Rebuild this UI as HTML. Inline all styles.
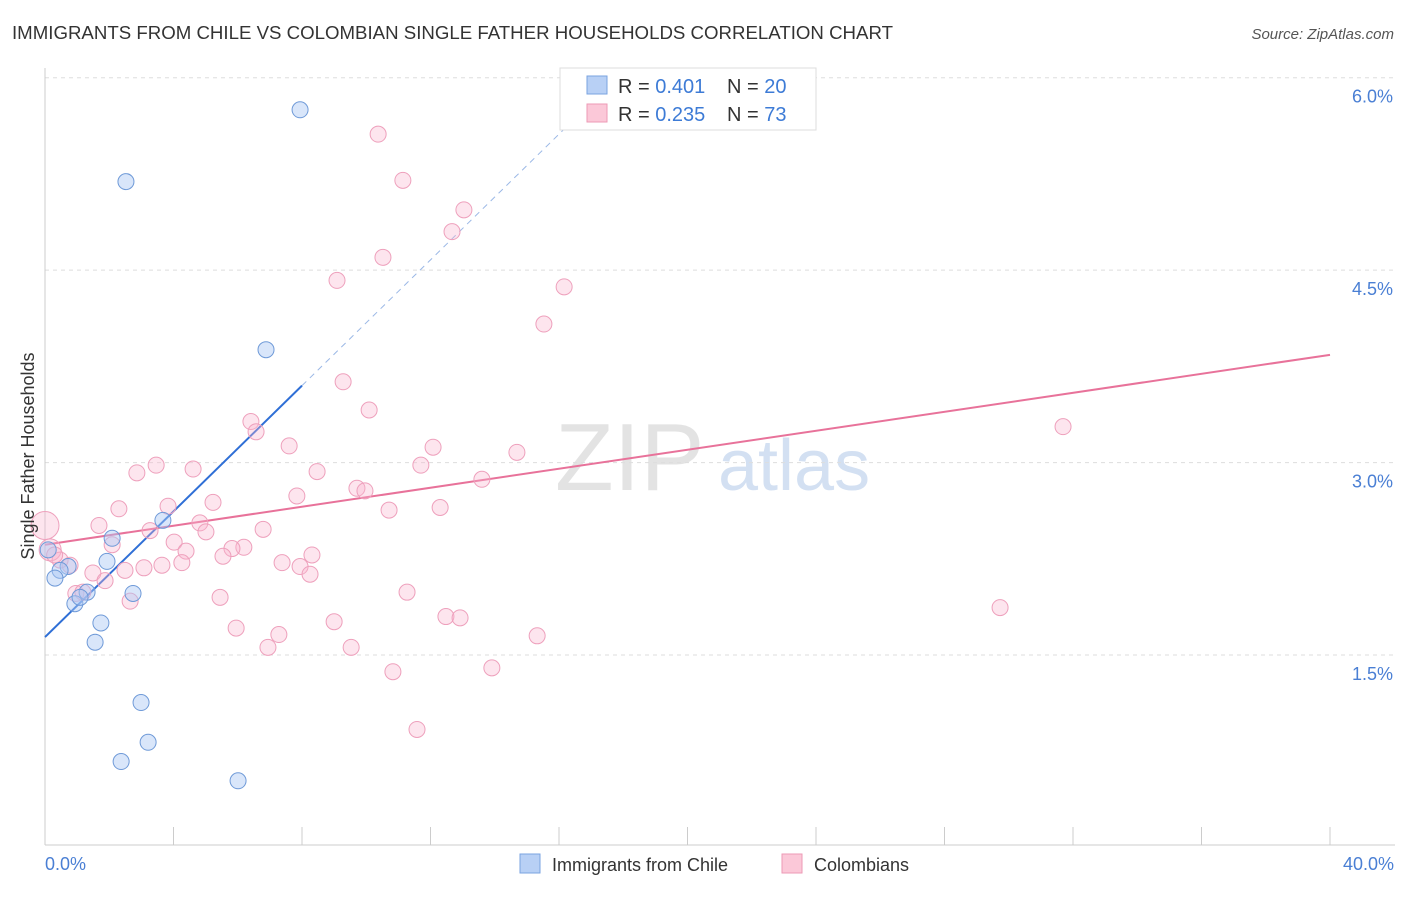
<!DOCTYPE html>
<html><head><meta charset="utf-8"><style>
body{margin:0;background:#fff;font-family:"Liberation Sans",sans-serif;}
svg text{font-family:"Liberation Sans",sans-serif;}
</style></head><body>
<svg id="chart" width="1406" height="892" xmlns="http://www.w3.org/2000/svg">
<text x="12" y="39" font-size="18" fill="#333" textLength="881" lengthAdjust="spacingAndGlyphs">IMMIGRANTS FROM CHILE VS COLOMBIAN SINGLE FATHER HOUSEHOLDS CORRELATION CHART</text>
<text x="1394" y="39" font-size="15" fill="#555" font-style="italic" text-anchor="end">Source: ZipAtlas.com</text>
<text x="555" y="490" font-size="96" fill="#ddd" font-family="Liberation Serif" opacity="0.8">ZIP</text>
<text x="718" y="490" font-size="72" fill="#c9d9f0" opacity="0.8">atlas</text>
<g id="grid"></g><g id="axes"></g><g id="trends"></g><g id="pts"></g>
<text transform="translate(34,456) rotate(-90)" font-size="18" fill="#333" text-anchor="middle">Single Father Households</text>
<text x="45" y="870" font-size="18" fill="#4a7fd4">0.0%</text>
<text x="1394" y="870" font-size="18" fill="#4a7fd4" text-anchor="end">40.0%</text>
<g>
<rect x="560" y="68" width="256" height="62" fill="#fff" stroke="#ddd"/>
<rect x="587" y="76" width="20" height="18" fill="#b8d0f5" stroke="#7aa3e0"/>
<rect x="587" y="104" width="20" height="18" fill="#fbc8d8" stroke="#ec9ab6"/>
<text x="618" y="93" font-size="20" fill="#333">R = <tspan fill="#3d7bd6">0.401</tspan><tspan x="727">N = </tspan><tspan fill="#3d7bd6">20</tspan></text>
<text x="618" y="121" font-size="20" fill="#333">R = <tspan fill="#3d7bd6">0.235</tspan><tspan x="727">N = </tspan><tspan fill="#3d7bd6">73</tspan></text>
</g>
<g>
<rect x="520" y="854" width="20" height="19" fill="#b8d0f5" stroke="#7aa3e0"/>
<text x="552" y="871" font-size="18" fill="#333">Immigrants from Chile</text>
<rect x="782" y="854" width="20" height="19" fill="#fbc8d8" stroke="#ec9ab6"/>
<text x="814" y="871" font-size="18" fill="#333">Colombians</text>
</g>
</svg>
<script>
const yTicks=[1.5,3.0,4.5,6.0];
const xTickCount=10;
const chileX=[7.94,2.52,6.88,3.67,2.09,1.93,0.72,0.47,0.31,1.31,2.74,0.93,1.09,1.74,1.56,2.99,3.21,2.37,6.01,0.1];
const chileY=[5.75,5.19,3.88,2.55,2.41,2.23,2.19,2.16,2.10,1.99,1.98,1.90,1.95,1.75,1.60,1.13,0.82,0.67,0.52,2.32];
const colX=[10.37,11.14,13.04,12.67,10.52,9.09,16.16,15.53,9.28,10.09,6.41,6.57,7.60,12.08,14.69,11.70,4.61,2.86,3.46,8.47,13.60,9.71,9.96,7.84,5.23,12.30,10.71,3.83,2.30,1.68,4.82,6.79,3.27,5.01,4.02,2.09,6.19,5.82,4.39,8.31,5.54,4.26,3.64,7.38,7.94,3.08,2.49,8.25,1.49,1.87,0.96,5.45,2.65,11.27,12.48,12.92,9.00,5.95,7.28,15.32,6.94,9.53,10.83,13.91,11.58,31.69,29.73,0,0.16,0.47,0.78,1.18,0.3];
const colY=[5.56,5.20,4.97,4.80,4.60,4.42,4.37,4.08,3.63,3.41,3.32,3.24,3.13,3.12,3.08,2.98,2.95,2.92,2.98,2.93,2.87,2.80,2.78,2.74,2.69,2.65,2.63,2.66,2.64,2.51,2.53,2.48,2.47,2.46,2.38,2.36,2.34,2.33,2.31,2.28,2.27,2.22,2.20,2.22,2.19,2.18,2.16,2.13,2.14,2.08,1.98,1.95,1.92,1.99,1.80,1.79,1.76,1.71,1.66,1.65,1.56,1.56,1.37,1.40,0.92,3.28,1.87,2.51,2.32,2.24,2.20,1.99,2.28];
const chileTrend=[1.64,3.60];
const colTrend=[2.36,3.84];
const NS="http://www.w3.org/2000/svg";
const X=v=>45+v*32.125, Y=v=>847.5-v*128.3;
function mk(tag,attrs,parent){const e=document.createElementNS(NS,tag);for(const k in attrs)e.setAttribute(k,attrs[k]);document.getElementById(parent).appendChild(e);return e;}
yTicks.forEach(t=>{
 const l=mk('line',{x1:45,x2:1395,y1:Y(t),y2:Y(t),stroke:'#ddd','stroke-dasharray':'4,4'},'grid');
 
 
 const tx=mk('text',{x:1393,y:Y(t)+25,'font-size':18,fill:'#4a7fd4','text-anchor':'end'},'grid');
 tx.textContent=t.toFixed(1)+'%';
 
 
});
let a=mk('line',{x1:45,x2:1395,y1:845,y2:845,stroke:'#ccc'},'axes');


a=mk('line',{x1:45,x2:45,y1:68,y2:845,stroke:'#ccc'},'axes');


for(let i=0;i<=xTickCount;i++){const t=mk('line',{x1:X(i*4),x2:X(i*4),y1:827,y2:845,stroke:'#ccc'},'axes');
 
 }
let tl=mk('line',{x1:X(0),y1:Y(chileTrend[0]),x2:X(8),y2:Y(chileTrend[1]),stroke:'#2f6fd6','stroke-width':2},'trends');


const sl=(chileTrend[1]-chileTrend[0])/8;
tl=mk('line',{x1:X(8),y1:Y(chileTrend[1]),x2:X(17),y2:Y(chileTrend[0]+sl*17),stroke:'#9bb8e6','stroke-width':1,'stroke-dasharray':'6,5'},'trends');


tl=mk('line',{x1:X(0),y1:Y(colTrend[0]),x2:X(40),y2:Y(colTrend[1]),stroke:'#e8729a','stroke-width':2},'trends');


colX.forEach((v,i)=>{const r=(i==67)?14:(i==68)?11:8;
 const c=mk('circle',{cx:X(v),cy:Y(colY[i]),r:r,fill:'rgba(248,180,205,0.35)',stroke:'#eea0bc','stroke-width':1},'pts');
 
 });
chileX.forEach((v,i)=>{const c=mk('circle',{cx:X(v),cy:Y(chileY[i]),r:8,fill:'rgba(170,200,245,0.45)',stroke:'#6f9ad8','stroke-width':1},'pts');
 
 });
</script>
</body></html>
